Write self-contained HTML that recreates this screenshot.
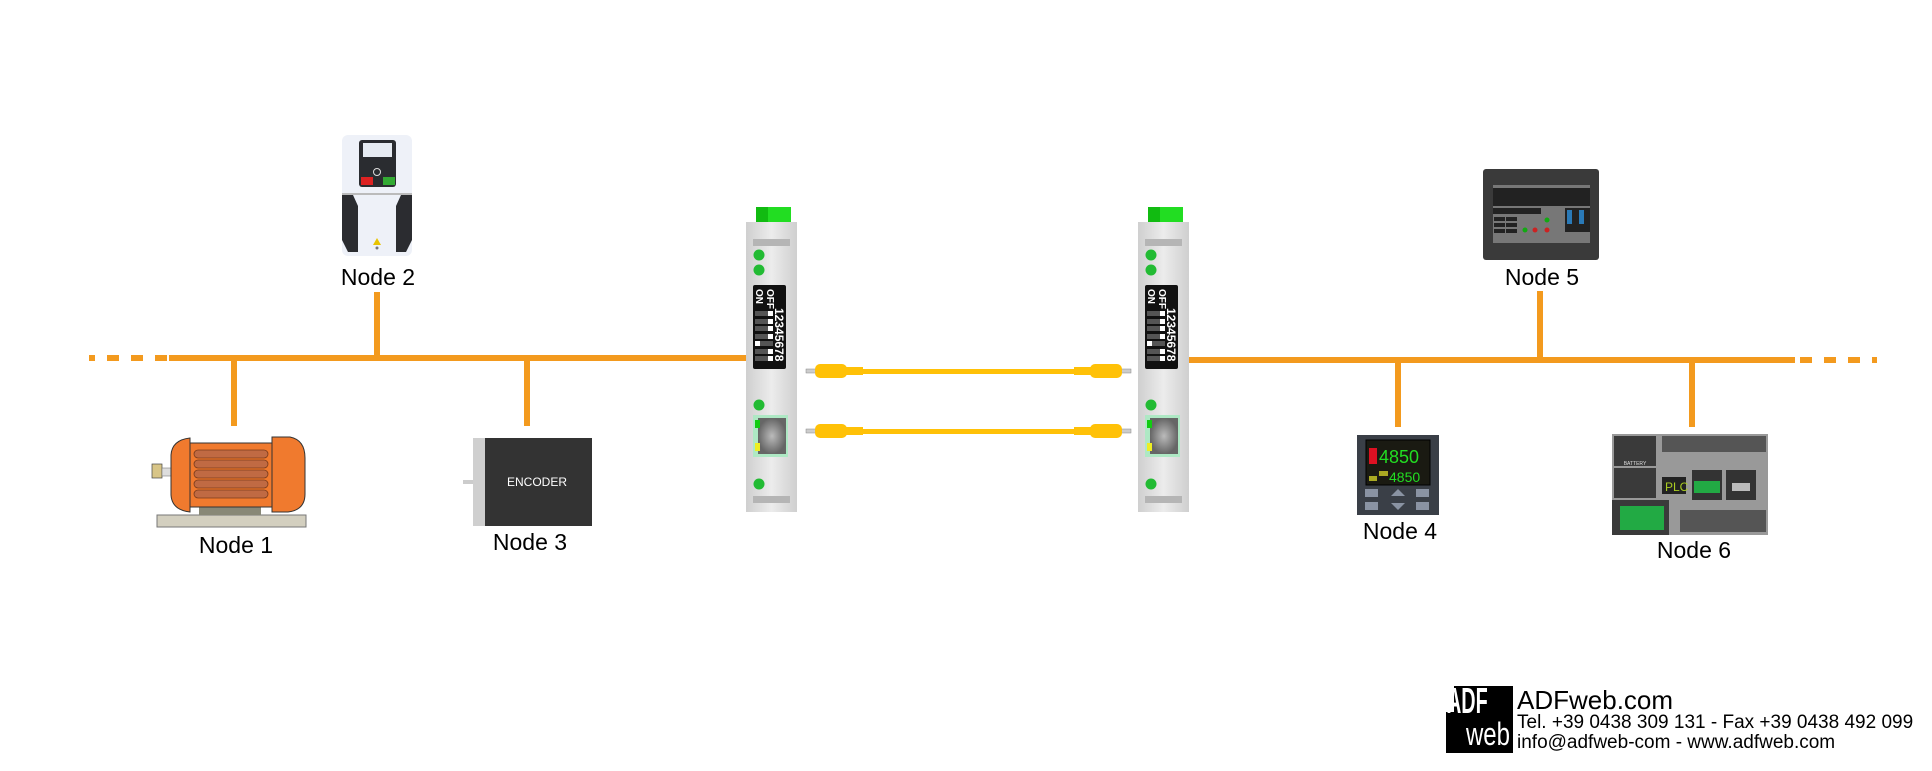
<!DOCTYPE html>
<html><head><meta charset="utf-8"><style>
html,body{margin:0;padding:0;background:#fff;}
svg{display:block}
text{font-family:"Liberation Sans",Arial,sans-serif;}
</style></head><body>
<svg width="1932" height="771" viewBox="0 0 1932 771" xmlns="http://www.w3.org/2000/svg">
<defs>
<linearGradient id="dev" x1="0" x2="1"><stop offset="0" stop-color="#cfcfcf"/><stop offset="0.5" stop-color="#ececec"/><stop offset="1" stop-color="#cfcfcf"/></linearGradient>
<radialGradient id="rj"><stop offset="0" stop-color="#bbb"/><stop offset="1" stop-color="#666"/></radialGradient>
<g id="device">
  <rect x="10" y="0" width="35" height="16" fill="#22dd22"/>
  <rect x="10" y="0" width="12" height="16" fill="#11bb11"/>
  <rect x="0" y="15" width="51" height="290" fill="url(#dev)"/>
  <rect x="7" y="32" width="37" height="7" fill="#b5b5b5"/>
  <circle cx="13" cy="48" r="5.5" fill="#22bb33"/>
  <circle cx="13" cy="63" r="5.5" fill="#22bb33"/>
  <rect x="7" y="78" width="33" height="84" rx="2" fill="#111"/>
  <text x="0" y="0" transform="translate(10,82) rotate(90)" font-size="10" font-weight="bold" fill="#fff">ON</text>
  <text x="0" y="0" transform="translate(21,82) rotate(90)" font-size="10" font-weight="bold" fill="#fff">OFF</text>
  <text x="0" y="0" transform="translate(29,101) rotate(90)" font-size="12" font-weight="bold" fill="#fff">12345678</text>
  <g fill="#555"><rect x="9" y="104" width="18" height="5"/><rect x="9" y="112" width="18" height="5"/><rect x="9" y="119" width="18" height="5"/><rect x="9" y="127" width="18" height="5"/><rect x="9" y="134" width="18" height="5"/><rect x="9" y="142" width="18" height="5"/><rect x="9" y="149" width="18" height="5"/></g>
  <g fill="#fff"><rect x="22" y="104" width="5" height="5"/><rect x="22" y="112" width="5" height="5"/><rect x="22" y="119" width="5" height="5"/><rect x="22" y="127" width="5" height="5"/><rect x="9" y="134" width="5" height="5"/><rect x="22" y="142" width="5" height="5"/><rect x="22" y="149" width="5" height="5"/></g>
  <circle cx="13" cy="198" r="5.5" fill="#22bb33"/>
  <rect x="7" y="208" width="35" height="42" fill="#aee8c4"/>
  <rect x="12" y="211" width="28" height="36" fill="url(#rj)"/>
  <rect x="9" y="213" width="5" height="8" fill="#11cc11"/>
  <rect x="9" y="236" width="5" height="8" fill="#eeee22"/>
  <circle cx="13" cy="277" r="5.5" fill="#22bb33"/>
  <rect x="7" y="289" width="37" height="7" fill="#b5b5b5"/>
</g>
<g id="cableL">
  <rect x="0" y="-2" width="10" height="4" fill="#ccc" stroke="#888" stroke-width="0.5"/>
  <rect x="9" y="-7" width="32" height="14" rx="5" fill="#ffc107"/>
  <rect x="40" y="-4" width="17" height="8" fill="#ffc107"/>
</g>
</defs>

<g fill="#f39a1e">
  <rect x="89" y="355" width="6" height="6"/><rect x="107" y="355" width="12" height="6"/><rect x="131" y="355" width="12" height="6"/><rect x="155" y="355" width="12" height="6"/>
  <rect x="169" y="355" width="577" height="6"/>
  <rect x="1189" y="357" width="606" height="6"/>
  <rect x="1800" y="357" width="12" height="6"/><rect x="1824" y="357" width="12" height="6"/><rect x="1848" y="357" width="12" height="6"/><rect x="1872" y="357" width="5" height="6"/>
  <rect x="231" y="358" width="6" height="68"/>
  <rect x="374" y="292" width="6" height="66"/>
  <rect x="524" y="358" width="6" height="68"/>
  <rect x="1395" y="360" width="6" height="67"/>
  <rect x="1537" y="291" width="6" height="69"/>
  <rect x="1689" y="360" width="6" height="67"/>
</g>

<use href="#device" x="746" y="207"/>
<use href="#device" x="1138" y="207"/>

<rect x="860" y="369" width="215" height="5" fill="#ffc107"/>
<rect x="860" y="429" width="215" height="5" fill="#ffc107"/>
<use href="#cableL" x="806" y="371"/>
<use href="#cableL" x="806" y="431"/>
<use href="#cableL" transform="translate(1131,371) scale(-1,1)"/>
<use href="#cableL" transform="translate(1131,431) scale(-1,1)"/>

<rect x="342" y="135" width="70" height="121" rx="6" fill="#eef1f8"/>
<rect x="359" y="140" width="37" height="47" rx="3" fill="#2a2c30"/>
<rect x="363" y="143" width="29" height="14" fill="#e6ebf2"/>
<rect x="361" y="177" width="12" height="8" fill="#dd2222"/><rect x="383" y="177" width="12" height="8" fill="#33aa33"/>
<circle cx="377" cy="172" r="3.5" fill="none" stroke="#ddd" stroke-width="1"/>
<rect x="342" y="193" width="70" height="2" fill="#bbb"/>
<path d="M342 195 L353 195 L358 206 L358 252 L348 252 L342 240Z" fill="#2b2c30"/>
<path d="M412 195 L401 195 L396 206 L396 252 L406 252 L412 240Z" fill="#2b2c30"/>
<path d="M377 238 L381 245 L373 245Z" fill="#e8c400"/>
<circle cx="377" cy="248" r="1.5" fill="#777"/>

<rect x="157" y="515" width="149" height="12" fill="#d3cfbf" stroke="#777" stroke-width="1"/>
<rect x="199" y="505" width="62" height="10" fill="#888877"/>
<rect x="152" y="464" width="10" height="14" fill="#d8c587" stroke="#444" stroke-width="0.7"/>
<rect x="162" y="468" width="12" height="8" fill="#ddd" stroke="#666" stroke-width="0.5"/>
<path d="M190 438 L190 512 Q172 510 171 495 L171 455 Q172 440 190 438Z" fill="#f07a2e" stroke="#333" stroke-width="1"/>
<rect x="190" y="443" width="82" height="64" fill="#f07a2e" stroke="#333" stroke-width="1"/>
<g fill="#c06a43" stroke="#7a3a1a" stroke-width="0.8">
<rect x="194" y="450" width="74" height="8" rx="4"/><rect x="194" y="460" width="74" height="8" rx="4"/><rect x="194" y="470" width="74" height="8" rx="4"/><rect x="194" y="480" width="74" height="8" rx="4"/><rect x="194" y="490" width="74" height="8" rx="4"/>
</g>
<path d="M272 437 L290 437 Q305 440 305 458 L305 494 Q305 510 288 512 L272 512Z" fill="#f07a2e" stroke="#333" stroke-width="1"/>

<rect x="463" y="480" width="11" height="4" fill="#ccc"/>
<rect x="473" y="438" width="12" height="88" fill="#cfcfcf"/>
<rect x="485" y="438" width="107" height="88" fill="#333"/>
<text x="537" y="486" font-size="12" fill="#fff" text-anchor="middle">ENCODER</text>

<rect x="1357" y="435" width="82" height="80" fill="#3a3f47"/>
<rect x="1366" y="440" width="64" height="45" fill="#1a1a12" stroke="#000" stroke-width="1"/>
<rect x="1369" y="448" width="8" height="16" fill="#dd1122"/>
<text x="1379" y="463" font-size="18" fill="#22dd22" font-family="Liberation Mono,monospace">4850</text>
<rect x="1369" y="476" width="8" height="5" fill="#aaaa22"/><rect x="1379" y="471" width="9" height="5" fill="#aaaa22"/>
<text x="1389" y="482" font-size="14" fill="#22dd22" font-family="Liberation Mono,monospace">4850</text>
<g fill="#8a93a3"><rect x="1365" y="489" width="13" height="8"/><rect x="1416" y="489" width="13" height="8"/><rect x="1365" y="502" width="13" height="8"/><rect x="1416" y="502" width="13" height="8"/>
<path d="M1398 489 L1405 496 L1391 496Z"/><path d="M1398 510 L1405 503 L1391 503Z"/></g>

<rect x="1483" y="169" width="116" height="91" rx="3" fill="#3a3a3a"/>
<rect x="1493" y="185" width="97" height="58" fill="#777"/>
<rect x="1493" y="188" width="97" height="18" fill="#222"/>
<rect x="1493" y="208" width="48" height="6" fill="#222"/>
<rect x="1565" y="208" width="25" height="24" fill="#222"/>
<rect x="1567" y="210" width="5" height="14" fill="#2a7ab8"/><rect x="1579" y="210" width="5" height="14" fill="#2a7ab8"/>
<g fill="#222"><rect x="1494" y="217" width="11" height="4"/><rect x="1506" y="217" width="11" height="4"/><rect x="1494" y="223" width="11" height="4"/><rect x="1506" y="223" width="11" height="4"/><rect x="1494" y="229" width="11" height="4"/><rect x="1506" y="229" width="11" height="4"/></g>
<circle cx="1525" cy="230" r="2.5" fill="#1a1"/><circle cx="1535" cy="230" r="2.5" fill="#c22"/><circle cx="1547" cy="230" r="2.5" fill="#c22"/><circle cx="1547" cy="220" r="2.5" fill="#1a1"/>

<rect x="1612" y="434" width="156" height="101" fill="#999"/>
<rect x="1614" y="436" width="42" height="30" fill="#3a3a3a"/>
<rect x="1614" y="468" width="42" height="30" fill="#3a3a3a"/>
<rect x="1612" y="500" width="57" height="35" fill="#3a3a3a"/>
<rect x="1620" y="506" width="44" height="24" fill="#22aa44"/>
<rect x="1662" y="477" width="24" height="17" fill="#222"/>
<text x="1665" y="491" font-size="12" fill="#aacc22">PLC</text>
<rect x="1692" y="470" width="30" height="30" fill="#333"/><rect x="1694" y="481" width="26" height="12" fill="#22aa44"/>
<rect x="1726" y="470" width="30" height="30" fill="#333"/><rect x="1732" y="483" width="18" height="8" fill="#bbb"/>
<g fill="#555"><rect x="1662" y="436" width="104" height="16"/><rect x="1680" y="510" width="86" height="22"/></g>
<text x="1635" y="465" font-size="5" fill="#ddd" text-anchor="middle">BATTERY</text>

<g font-size="23" fill="#000" text-anchor="middle">
<text x="236" y="553">Node 1</text>
<text x="378" y="285">Node 2</text>
<text x="530" y="550">Node 3</text>
<text x="1400" y="539">Node 4</text>
<text x="1542" y="285">Node 5</text>
<text x="1694" y="558">Node 6</text>
</g>

<rect x="1446" y="686" width="67" height="67" fill="#000"/>
<rect x="1446" y="686" width="8" height="26" fill="#fff"/>
<text x="1447" y="713" font-size="36" font-weight="bold" fill="#fff" transform="translate(1447,0) scale(0.55,1) translate(-1447,0)">ADF</text>
<text x="1510" y="745" font-size="32" fill="#fff" text-anchor="end" transform="translate(1510,0) scale(0.75,1) translate(-1510,0)">web</text>
<text x="1517" y="709" font-size="26" fill="#000">ADFweb.com</text>
<text x="1517" y="728" font-size="19" fill="#000">Tel. +39 0438 309 131 - Fax +39 0438 492 099</text>
<text x="1517" y="748" font-size="19" fill="#000">info@adfweb-com - www.adfweb.com</text>
</svg>
</body></html>
